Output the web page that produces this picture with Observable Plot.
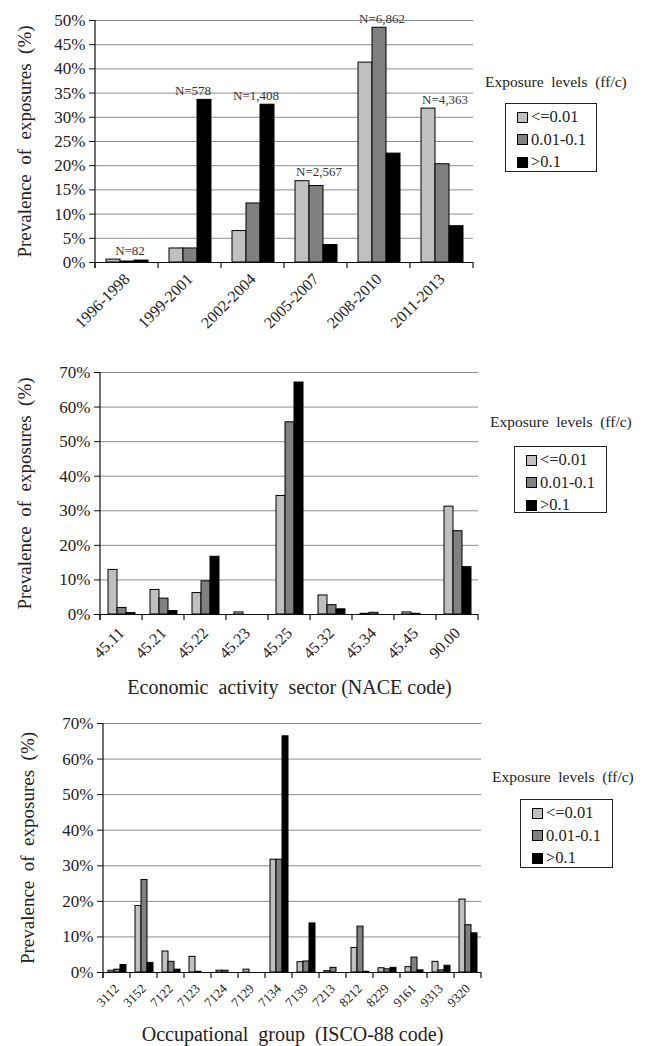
<!DOCTYPE html>
<html>
<head>
<meta charset="utf-8">
<script src="https://cdn.jsdelivr.net/npm/d3@7"></script>
<script src="https://cdn.jsdelivr.net/npm/@observablehq/plot@0.6"></script>
<style>
  body { margin: 0; background: #fff; }
  #root { position: relative; width: 646px; height: 1046px; font-family: "Liberation Serif", "Times New Roman", serif; color: #222; }
  .panel { position: absolute; left: 0; }
  .legend-title { position: absolute; font-size: 15.5px; white-space: pre; line-height: 1; }
  .legend-box { position: absolute; border: 1px solid #222; box-sizing: border-box; background: #fff; padding-top: 2px; }
  .legend-row { display: flex; align-items: center; height: 22.5px; font-size: 16.5px; padding-left: 11px; }
  .legend-sw { width: 9px; height: 9px; border: 1px solid #000; margin-right: 3px; }
</style>
</head>
<body>
<div id="root"></div>
<script>
// ---------- data ----------
const levels = ["<=0.01", "0.01-0.1", ">0.1"];
const levelColors = ["#c0c0c0", "#808080", "#000000"];
const legendTitle = "Exposure\u00a0 levels\u00a0 (ff/c)";
const yLabel = "Prevalence\u00a0 of\u00a0 exposures\u00a0 (%)";

const periods = ["1996-1998", "1999-2001", "2002-2004", "2005-2007", "2008-2010", "2011-2013"];
const periodLow = [0.6, 2.9, 6.5, 16.8, 41.3, 31.8];
const periodMid = [0.2, 2.9, 12.2, 15.8, 48.5, 20.3];
const periodHigh = [0.4, 33.6, 32.6, 3.6, 22.5, 7.5];
const periodN = ["N=82", "N=578", "N=1,408", "N=2,567", "N=6,862", "N=4,363"];
const yTicks1 = [0, 5, 10, 15, 20, 25, 30, 35, 40, 45, 50];

const nace = ["45.11", "45.21", "45.22", "45.23", "45.25", "45.32", "45.34", "45.45", "90.00"];
const naceLow = [12.9, 7.1, 6.2, 0.6, 34.3, 5.5, 0.2, 0.6, 31.2];
const naceMid = [1.9, 4.6, 9.6, 0, 55.6, 2.7, 0.5, 0.2, 24.1];
const naceHigh = [0.4, 1.0, 16.7, 0, 67.1, 1.5, 0, 0, 13.7];
const naceLabel = "Economic\u00a0 activity\u00a0 sector (NACE code)";

const isco = ["3112", "3152", "7122", "7123", "7124", "7129", "7134", "7139", "7213", "8212", "8229", "9161", "9313", "9320"];
const iscoLow = [0.5, 18.7, 5.9, 4.4, 0.5, 0.8, 31.7, 2.9, 0.4, 6.9, 1.2, 1.5, 3.0, 20.5];
const iscoMid = [0.8, 26.0, 3.0, 0.2, 0.5, 0, 31.7, 3.1, 1.3, 12.9, 0.9, 4.2, 0.6, 13.3];
const iscoHigh = [2.1, 2.7, 0.8, 0, 0, 0, 66.4, 13.8, 0, 0.2, 1.3, 0.6, 1.9, 11.0];
const iscoLabel = "Occupational\u00a0 group\u00a0 (ISCO-88 code)";
const yTicks2 = [0, 10, 20, 30, 40, 50, 60, 70];

// ---------- drawing ----------
const root = document.getElementById("root");
const FONT = "Liberation Serif, Times New Roman, serif";

function panel(cfg) {
  const rows = cfg.cats.flatMap((c, i) => levels.map((l, j) => ({cat: c, level: l, value: cfg.series[j][i]})));
  const marks = [
    Plot.gridY({ticks: cfg.yTicks, stroke: "#8c8c8c", strokeOpacity: 1}),
    Plot.barY(rows, {fx: "cat", x: "level", y: "value", fill: "level", stroke: "#000", strokeWidth: 1}),
    Plot.ruleY([0], {stroke: "#111"}),
    Plot.axisY({ticks: cfg.yTicks, tickFormat: d => d + "%", tickSize: 6, tickPadding: 4, fontSize: 17, label: null, stroke: "#111", fill: "#222"}),
    Plot.axisY({ticks: [], label: yLabel, labelAnchor: "center", labelArrow: "none", labelOffset: cfg.yLabelOffset, fontSize: 19, fill: "#222"}),
    Plot.axisFx({anchor: "bottom", tickRotate: -45, tickSize: 0, tickPadding: cfg.tickPadding, fontSize: cfg.tickFont, label: null, fill: "#222"})
  ];
  if (cfg.xLabel) {
    marks.push(Plot.axisFx({anchor: "bottom", ticks: [], label: cfg.xLabel, labelAnchor: "center", labelArrow: "none", labelOffset: cfg.xLabelOffset, dx: cfg.xLabelDx, fontSize: 20, fill: "#222"}));
  }
  if (cfg.nLabels) {
    const nRows = cfg.cats.map((c, i) => ({cat: c, top: d3.max(cfg.series, s => s[i]), label: cfg.nLabels[i]}));
    marks.push(Plot.text(nRows, {fx: "cat", y: "top", text: "label", dy: -9, dx: 3, fontSize: 13, fill: "#333"}));
  }
  const p = Plot.plot({
    width: 646,
    height: cfg.height,
    marginTop: cfg.marginTop,
    marginBottom: cfg.marginBottom,
    marginLeft: cfg.marginLeft,
    marginRight: cfg.marginRight,
    style: {fontFamily: FONT, background: "transparent", overflow: "visible"},
    fx: {domain: cfg.cats, padding: 0},
    x: {domain: levels, paddingInner: 0, paddingOuter: cfg.padOuter, axis: null},
    y: {domain: [0, cfg.yMax]},
    color: {domain: levels, range: levelColors},
    marks
  });
  // axis line and category boundary ticks from Plot's scales
  const fx = p.scale("fx"), y = p.scale("y");
  const y0 = y.apply(0), yTop = y.apply(cfg.yMax);
  const bounds = cfg.cats.map(c => fx.apply(c)).concat([fx.apply(cfg.cats[cfg.cats.length - 1]) + fx.bandwidth]);
  const svg = d3.select(p);
  const g = svg.append("g").attr("stroke", "#111").attr("stroke-width", 1.2);
  g.append("line").attr("x1", bounds[0]).attr("x2", bounds[0]).attr("y1", yTop).attr("y2", y0 + 6);
  g.selectAll(null).data(bounds).join("line")
    .attr("x1", d => d).attr("x2", d => d).attr("y1", y0).attr("y2", y0 + 6);

  const wrap = document.createElement("div");
  wrap.className = "panel";
  wrap.style.top = cfg.top + "px";
  wrap.appendChild(p);
  root.appendChild(wrap);

  // legend
  const t = document.createElement("div");
  t.className = "legend-title";
  t.textContent = legendTitle;
  t.style.left = cfg.legend.titleX + "px";
  t.style.top = cfg.legend.titleY + "px";
  root.appendChild(t);
  const box = document.createElement("div");
  box.className = "legend-box";
  box.style.left = cfg.legend.boxX + "px";
  box.style.top = cfg.legend.boxY + "px";
  box.style.width = cfg.legend.boxW + "px";
  box.style.height = cfg.legend.boxH + "px";
  levels.forEach((l, j) => {
    const r = document.createElement("div");
    r.className = "legend-row";
    const sw = document.createElement("span");
    sw.className = "legend-sw";
    sw.style.background = levelColors[j];
    const tx = document.createElement("span");
    tx.textContent = l;
    r.appendChild(sw); r.appendChild(tx);
    box.appendChild(r);
  });
  root.appendChild(box);
}

panel({
  cats: periods, series: [periodLow, periodMid, periodHigh], nLabels: periodN,
  yTicks: yTicks1, yMax: 50, top: 0, height: 335,
  marginTop: 20, marginBottom: 73, marginLeft: 95, marginRight: 173,
  padOuter: 0.75, tickFont: 16, tickPadding: 14, yLabelOffset: 78,
  legend: {titleX: 485, titleY: 74, boxX: 505, boxY: 103, boxW: 92, boxH: 69}
});

panel({
  cats: nace, series: [naceLow, naceMid, naceHigh], xLabel: naceLabel,
  yTicks: yTicks2, yMax: 70, top: 340, height: 360,
  marginTop: 32, marginBottom: 86, marginLeft: 100, marginRight: 168,
  padOuter: 0.83, tickFont: 16, tickPadding: 16, yLabelOffset: 83, xLabelOffset: 79, xLabelDx: -12,
  legend: {titleX: 490, titleY: 414, boxX: 514, boxY: 446, boxW: 93, boxH: 67}
});

panel({
  cats: isco, series: [iscoLow, iscoMid, iscoHigh], xLabel: iscoLabel,
  yTicks: yTicks2, yMax: 70, top: 700, height: 346,
  marginTop: 23, marginBottom: 74, marginLeft: 100, marginRight: 163,
  padOuter: 0.6, tickFont: 13, tickPadding: 14, yLabelOffset: 83, xLabelOffset: 68, xLabelDx: -17,
  legend: {titleX: 492, titleY: 769, boxX: 520, boxY: 799, boxW: 93, boxH: 69}
});
</script>
</body>
</html>
